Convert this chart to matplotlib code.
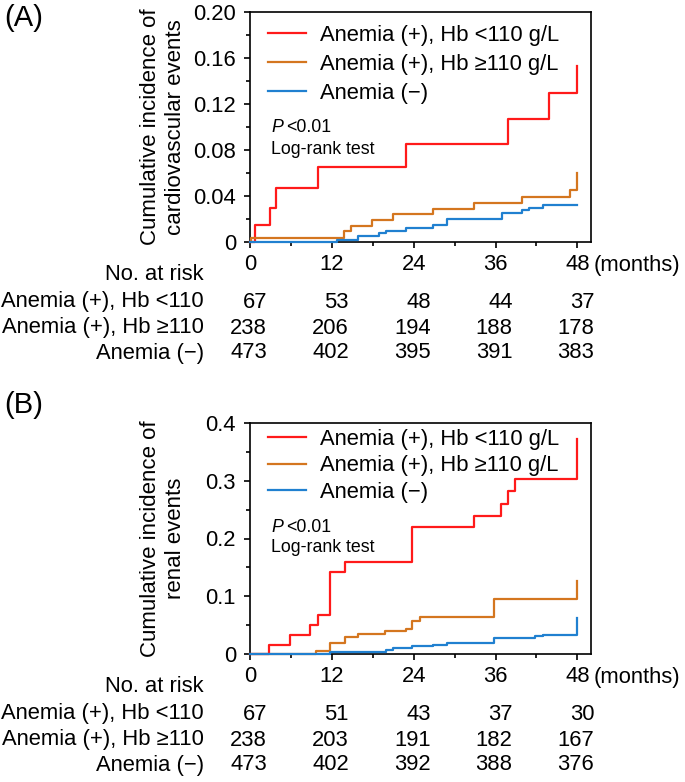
import matplotlib
matplotlib.use("Agg")
import matplotlib.pyplot as plt
from matplotlib.ticker import MultipleLocator, FixedLocator
from matplotlib.transforms import blended_transform_factory

plt.rcParams['font.family'] = ['Liberation Sans', 'DejaVu Sans']

# ---------------- data ----------------
series_labels = ["Anemia (+), Hb <110 g/L", "Anemia (+), Hb \u2265110 g/L", "Anemia (\u2212)"]
risk_labels = ["Anemia (+), Hb <110", "Anemia (+), Hb \u2265110", "Anemia (\u2212)"]
colors = ["#FF1A1A", "#D4761F", "#2080D0"]
xticks = [0, 12, 24, 36, 48]

# Panel A: cardiovascular events
a_red_t = [0, 0.73, 2.9, 3.75, 9.9, 22.9, 37.8, 43.9, 48]
a_red_v = [0, 0.0145, 0.030, 0.047, 0.065, 0.085, 0.107, 0.130, 0.153]
a_org_t = [0, 0.2, 13.8, 14.8, 17.9, 20.9, 26.9, 32.9, 39.9, 46.9, 48]
a_org_v = [0, 0.0038, 0.0093, 0.0136, 0.019, 0.024, 0.029, 0.034, 0.039, 0.045, 0.060]
a_blu_t = [0, 12.7, 15.8, 18.9, 19.9, 22.9, 26.9, 28.9, 37.0, 39.9, 40.9, 42.9, 48]
a_blu_v = [0, 0.0015, 0.005, 0.008, 0.010, 0.012, 0.015, 0.020, 0.025, 0.0275, 0.030, 0.032, 0.032]
a_risk_red = [67, 53, 48, 44, 37]
a_risk_org = [238, 206, 194, 188, 178]
a_risk_blu = [473, 402, 395, 391, 383]

# Panel B: renal events
b_red_t = [0, 2.8, 5.84, 8.86, 9.9, 11.8, 13.9, 23.8, 32.9, 36.8, 37.8, 38.8, 48]
b_red_v = [0, 0.0157, 0.033, 0.050, 0.068, 0.142, 0.159, 0.220, 0.239, 0.260, 0.283, 0.303, 0.372]
b_org_t = [0, 9.7, 11.8, 13.9, 15.8, 19.8, 22.9, 23.8, 24.9, 35.8, 48]
b_org_v = [0, 0.005, 0.019, 0.029, 0.034, 0.039, 0.043, 0.058, 0.064, 0.096, 0.126]
b_blu_t = [0, 11.8, 19.9, 20.9, 23.8, 26.9, 28.9, 35.8, 41.8, 42.9, 48]
b_blu_v = [0, 0.003, 0.0075, 0.010, 0.013, 0.016, 0.019, 0.027, 0.031, 0.033, 0.063]
b_risk_red = [67, 51, 43, 37, 30]
b_risk_org = [238, 203, 191, 182, 167]
b_risk_blu = [473, 402, 392, 388, 376]

# ---------------- figure ----------------
W, H = 685, 782
fig = plt.figure(figsize=(W / 100, H / 100), dpi=100)

def px_axes(left, top, right, bottom):
    return fig.add_axes([left / W, 1 - bottom / H, (right - left) / W, (bottom - top) / H])

FS = 15.8

def draw_panel(ax, curves, ymax, ymajor, yminor, yfmt, ylabel, risks, leg_top_px, leg_spacing, ptxt_px):
    for (t, v), c, lab in zip(curves, colors, series_labels):
        ax.step(t, v, where='post', color=c, lw=1.6, label=lab, clip_on=False, zorder=3)
    ax.set_xlim(0, 50)
    ax.set_ylim(0, ymax)
    ax.xaxis.set_major_locator(FixedLocator(xticks))
    ax.xaxis.set_minor_locator(MultipleLocator(6))
    ax.yaxis.set_minor_locator(MultipleLocator(yminor))
    yt = [i * ymajor for i in range(int(round(ymax / ymajor)) + 1)]
    ax.set_yticks(yt)
    ax.set_yticklabels(["0"] + [yfmt.format(y) for y in yt[1:]])
    ax.set_xticklabels([str(x) for x in xticks])
    ax.tick_params(axis='both', which='major', direction='out', length=4, width=1.2, labelsize=FS)
    ax.tick_params(axis='both', which='minor', direction='out', length=3, width=1.2)
    ax.tick_params(axis='y', which='major', pad=6)
    ax.tick_params(axis='x', which='major', pad=5)
    for s in ax.spines.values():
        s.set_linewidth(1.2)
    trans = blended_transform_factory(ax.transData, ax.transAxes)
    ax.annotate("(months)", xy=(48, 0), xycoords=trans, xytext=(12, -23 * 0.72),
                textcoords='offset points', ha='left', va='center', fontsize=FS,
                annotation_clip=False)
    # y label
    ax.text((163 - 250) / 341, 0.5, ylabel, transform=ax.transAxes, rotation=90,
            ha='center', va='center', fontsize=16, linespacing=1.22, multialignment='center')
    # legend
    axh = ax.get_position().height * H
    ax.legend(loc='upper left', bbox_to_anchor=(18 / 341, 1 - leg_top_px / axh),
              frameon=False, fontsize=FS, handlelength=1.75, handletextpad=0.62,
              labelspacing=leg_spacing, borderpad=0, borderaxespad=0)
    # P value text
    ax.text(21 / 341, 1 - ptxt_px / axh, "P", transform=ax.transAxes, fontsize=12.8,
            ha='left', va='center', fontstyle='italic')
    ax.text(36 / 341, 1 - ptxt_px / axh, "<0.01", transform=ax.transAxes, fontsize=12.8,
            ha='left', va='center')
    ax.text(21 / 341, 1 - (ptxt_px + 21) / axh, "Log-rank test", transform=ax.transAxes,
            fontsize=12.8, ha='left', va='center')
    # risk table
    ax.annotate("No. at risk", xy=(0, 0), xycoords=trans, xytext=(-46 * 0.72, -33 * 0.72),
                textcoords='offset points', ha='right', va='center', fontsize=FS,
                annotation_clip=False)
    for row, (lab, vals) in enumerate(zip(risk_labels, risks)):
        dy = [-60, -86, -111][row] * 0.72
        ax.annotate(lab, xy=(0, 0), xycoords=trans, xytext=(-46 * 0.72, dy),
                    textcoords='offset points', ha='right', va='center', fontsize=FS,
                    annotation_clip=False)
        for x, n in zip(xticks, vals):
            ax.annotate(str(n), xy=(x, 0), xycoords=trans, xytext=(17 * 0.72, dy),
                        textcoords='offset points', ha='right', va='center', fontsize=FS,
                        annotation_clip=False)

axA = px_axes(250, 12, 591, 242)
draw_panel(axA, [(a_red_t, a_red_v), (a_org_t, a_org_v), (a_blu_t, a_blu_v)],
           0.20, 0.04, 0.02, "{:.2f}", "Cumulative incidence of\ncardiovascular events",
           [a_risk_red, a_risk_org, a_risk_blu], 13, 0.36, 116)

axB = px_axes(250, 423, 591, 654)
draw_panel(axB, [(b_red_t, b_red_v), (b_org_t, b_org_v), (b_blu_t, b_blu_v)],
           0.4, 0.1, 0.05, "{:.1f}", "Cumulative incidence of\nrenal events",
           [b_risk_red, b_risk_org, b_risk_blu], 6, 0.25, 104)

fig.text(4 / W, 1 - 18 / H, "(A)", fontsize=21, ha='left', va='center')
fig.text(4 / W, 1 - 405 / H, "(B)", fontsize=21, ha='left', va='center')

fig.savefig("out.png", dpi=100)
